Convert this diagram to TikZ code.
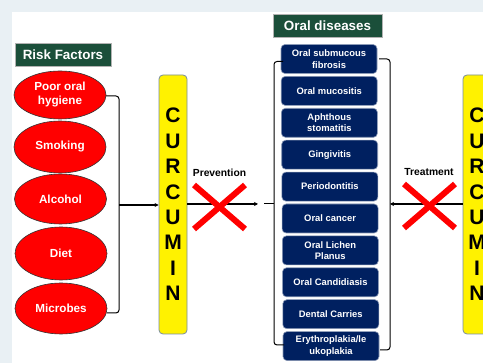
\documentclass[tikz,border=0pt]{standalone}
\usepackage{fontspec}
\setmainfont{Liberation Sans}
\usetikzlibrary{shapes.geometric,arrows.meta}
\definecolor{bgout}{HTML}{E9F0F4}
\definecolor{hgreen}{RGB}{27,79,58}
\definecolor{navy}{RGB}{0,32,96}
\definecolor{curborder}{RGB}{120,140,160}
\begin{document}
\begin{tikzpicture}[x=1pt,y=-1pt,
  risk/.style={ellipse,fill=red,draw=black!80,line width=0.6pt,minimum width=92pt,inner sep=0pt,text=white,font=\bfseries\fontsize{11.7}{14}\selectfont,align=center},
  head/.style={rectangle,fill=hgreen,draw=gray!60,line width=0.6pt,minimum height=23pt,inner sep=0pt,text=white,font=\bfseries\fontsize{13.4}{16}\selectfont},
  dis/.style={rectangle,rounded corners=4pt,fill=navy,draw=navy!45!white,line width=0.6pt,minimum width=96pt,minimum height=29pt,inner sep=0pt,text=white,font=\bfseries\fontsize{9.4}{11.5}\selectfont,align=center},
  cur/.style={rectangle,rounded corners=4pt,fill=yellow,draw=curborder,line width=0.8pt,minimum width=28pt,minimum height=259pt,inner sep=0pt,font=\bfseries\fontsize{21}{25.4}\selectfont,align=center},
  brk/.style={draw=black,line width=1pt,rounded corners=3pt},
  arr/.style={-{Stealth[length=4pt,width=4pt]},line width=1.1pt},
  cross/.style={red,line width=6pt},
  lbl/.style={font=\bfseries\fontsize{10.3}{12}\selectfont}
]
\useasboundingbox (0,0) rectangle (483,363);
\clip (0,0) rectangle (483,363);
\fill[bgout] (0,0) rectangle (483,363);
\fill[white] (12,12) rectangle (483,363);

% headers
\node[head,minimum width=96pt] (hrisk) at (63,54.5) {Risk Factors};
\node[head,minimum width=109pt] (hdis) at (327.5,25.5) {Oral diseases};

% risk factors
\node[risk,minimum height=48pt] (e1) at (60,95) {Poor oral\\hygiene};
\node[risk,minimum height=52pt] (e2) at (60,147) {Smoking};
\node[risk,minimum height=50pt] (e3) at (60.5,199) {Alcohol};
\node[risk,minimum height=53pt] (e4) at (61,253.5) {Diet};
\node[risk,minimum height=51pt] (e5) at (61,308.5) {Microbes};

% curcumin boxes
\node[cur] (cur1) at (173,204.5) {C\\U\\R\\C\\U\\M\\I\\N};
\node[cur] (cur2) at (477,204.5) {C\\U\\R\\C\\U\\M\\I\\N};

% diseases
\node[dis] (d1) at (329,59) {Oral submucous\\fibrosis};
\node[dis] (d2) at (329.2,90.9) {Oral mucositis};
\node[dis] (d3) at (329.4,122.8) {Aphthous\\stomatitis};
\node[dis] (d4) at (329.7,154.7) {Gingivitis};
\node[dis] (d5) at (329.9,186.6) {Periodontitis};
\node[dis] (d6) at (330.1,218.5) {Oral cancer};
\node[dis] (d7) at (330.3,250.4) {Oral Lichen\\Planus};
\node[dis] (d8) at (330.5,282.3) {Oral Candidiasis};
\node[dis] (d9) at (330.8,314.2) {Dental Carries};
\node[dis] (d10) at (331,346.1) {Erythroplakia/le\\ukoplakia};

% risk bracket
\coordinate (rt) at (106,96);
\coordinate (rb) at (107,313);
\coordinate (rm) at (119,205);
\draw[brk] (rt) -- (119,96) -- (119,313) -- (rb);
\draw[arr] (rm) -- (cur1.west |- rm);

% left disease bracket
\coordinate (lm) at (274,204);
\coordinate (lt) at (283,61.5);
\coordinate (lb) at (284,345);
\draw[brk] (lt) -- (274,61.5) -- (274,345) -- (lb);
\draw[line width=1pt] (lm) -- (264,204);
\coordinate (pend) at (258,204);
\draw[arr] (cur1.east |- pend) -- (pend);

% right disease bracket
\coordinate (gm) at (390,204);
\coordinate (gt) at (379,59);
\coordinate (gb) at (380,350);
\draw[brk] (gt) -- (390,59) -- (390,350) -- (gb);
\draw[arr] (cur2.west |- gm) -- (gm);

% labels
\node[lbl] (prev) at (219.5,173) {Prevention};
\node[lbl] (treat) at (429,172) {Treatment};

% crosses
\draw[cross] (194,185) -- (245,229);
\draw[cross] (245,185) -- (194,229);
\draw[cross] (404,184) -- (455,228);
\draw[cross] (455,184) -- (404,228);
\end{tikzpicture}
\end{document}
